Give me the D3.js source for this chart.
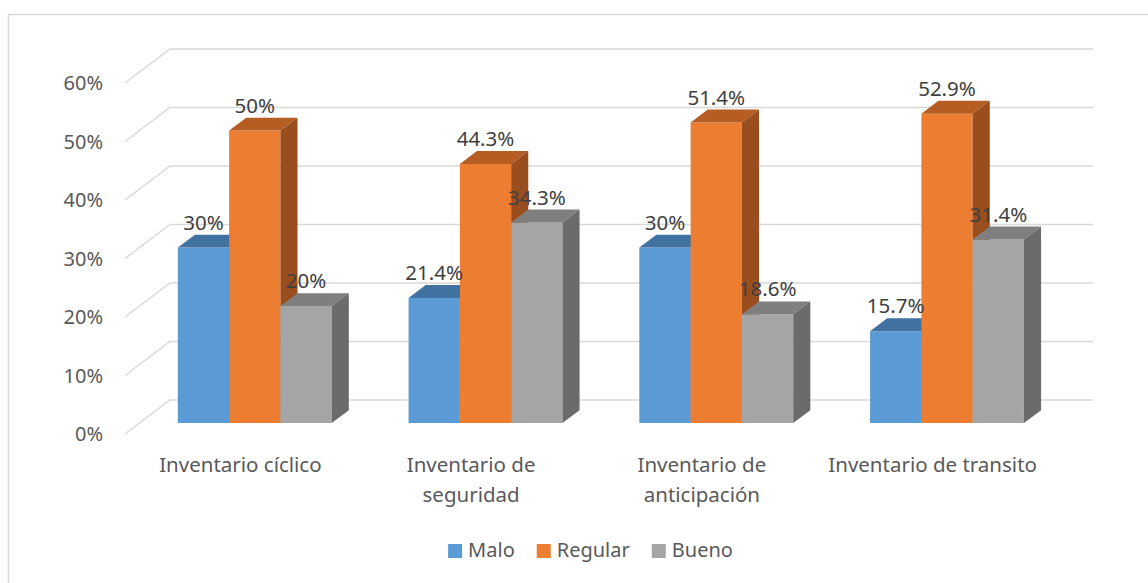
<!DOCTYPE html>
<html lang="es">
<head>
<meta charset="UTF-8">
<script src="https://d3js.org/d3.v7.min.js"></script>
<style>
  body { margin: 0; background: #fff; }
  text { font-family: "Noto Sans", sans-serif; }
</style>
</head>
<body>
<script>
// data
const categories = ["Inventario cíclico", "Inventario de seguridad", "Inventario de anticipación", "Inventario de transito"];
const categoryLines = [["Inventario cíclico"], ["Inventario de", "seguridad"], ["Inventario de", "anticipación"], ["Inventario de transito"]];
const seriesNames = ["Malo", "Regular", "Bueno"];
const malo = [30, 21.4, 30, 15.7];
const regular = [50, 44.3, 51.4, 52.9];
const bueno = [20, 34.3, 18.6, 31.4];
const yTicks = [0, 10, 20, 30, 40, 50, 60];

const seriesValues = [malo, regular, bueno];
const colors = {
  Malo:    { front: "#5B9BD5", top: "#42729F", side: "#3A6690" },
  Regular: { front: "#ED7D31", top: "#B55D22", side: "#9A4E1D" },
  Bueno:   { front: "#A5A5A5", top: "#7F7F7F", side: "#6B6B6B" }
};

const W = 1148, H = 583;
const svg = d3.select("body").append("svg").attr("width", W).attr("height", H);

// outer border (right/bottom run off the picture)
svg.append("rect")
  .attr("x", 8.5).attr("y", 14.5).attr("width", 1200).attr("height", 700)
  .attr("fill", "none").attr("stroke", "#D9D9D9").attr("stroke-width", 1.5);

// 3D projection: depth d in [0,1] shifts right and up
const depthX = 45, depthY = 34;
const y = d3.scaleLinear().domain([0, 60]).range([434, 83]);
const x0 = d3.scaleBand().domain(categories).range([125, 1048])
  .paddingInner(0.333).paddingOuter(0.1665);
const x1 = d3.scaleBand().domain(seriesNames).range([0, x0.bandwidth()]);
const P = (px, v, d) => [px + depthX * d, y(v) - depthY * d];

// gridlines: front diagonal + back wall
const grid = svg.append("g");
yTicks.forEach(t => {
  const a = P(125, t, 0), b = P(125, t, 1), c = P(1048, t, 1);
  grid.append("polyline")
    .attr("points", [a, b, c].map(p => p.join(",")).join(" "))
    .attr("fill", "none").attr("stroke", "#D9D9D9").attr("stroke-width", 1.5);
});

// y tick labels
svg.append("g").selectAll("text").data(yTicks).join("text")
  .attr("x", 103).attr("y", d => y(d)).attr("dy", "0.35em")
  .attr("text-anchor", "end").attr("fill", "#595959").attr("font-size", 20)
  .text(d => d + "%");

// bars
const d0 = 0.32, d1 = 0.70;
const bars = svg.append("g");
const poly = (pts, fill) => bars.append("polygon")
  .attr("points", pts.map(p => p.join(",")).join(" ")).attr("fill", fill);

categories.forEach((cat, ci) => {
  seriesNames.forEach((s, si) => {
    const v = seriesValues[si][ci];
    const xl = x0(cat) + x1(s), xr = xl + x1.bandwidth();
    const c = colors[s];
    // front
    poly([P(xl, 0, d0), P(xr, 0, d0), P(xr, v, d0), P(xl, v, d0)], c.front);
    // top
    poly([P(xl, v, d0), P(xr, v, d0), P(xr, v, d1), P(xl, v, d1)], c.top);
    // right side
    poly([P(xr, 0, d0), P(xr, 0, d1), P(xr, v, d1), P(xr, v, d0)], c.side);
  });
});

// value labels
categories.forEach((cat, ci) => {
  seriesNames.forEach((s, si) => {
    const v = seriesValues[si][ci];
    const xc = x0(cat) + x1(s) + x1.bandwidth() / 2;
    const p = P(xc, v, d0);
    svg.append("text")
      .attr("x", p[0]).attr("y", P(xc, v, d1)[1] - 5)
      .attr("text-anchor", "middle").attr("fill", "#404040").attr("font-size", 20.5)
      .text(v + "%");
  });
});

// category labels (front plane centres)
categories.forEach((cat, ci) => {
  const xc = x0(cat) + x0.bandwidth() / 2;
  const t = svg.append("text").attr("text-anchor", "middle")
    .attr("fill", "#595959").attr("font-size", 20.5);
  categoryLines[ci].forEach((line, li) => {
    t.append("tspan").attr("x", xc).attr("y", 472 + li * 29.5).text(line);
  });
});

// legend
const legend = svg.append("g");
let lx = 0;
seriesNames.forEach(s => {
  const g = legend.append("g").attr("transform", `translate(${lx},0)`);
  g.append("rect").attr("x", 0).attr("y", 544).attr("width", 14).attr("height", 14)
    .attr("fill", colors[s].front);
  const t = g.append("text").attr("x", 20).attr("y", 557)
    .attr("fill", "#595959").attr("font-size", 20).text(s);
  lx += 20 + t.node().getComputedTextLength() + 22;
});
const lw = lx - 22;
legend.attr("transform", `translate(${590.5 - lw / 2},0)`);
</script>
</body>
</html>
